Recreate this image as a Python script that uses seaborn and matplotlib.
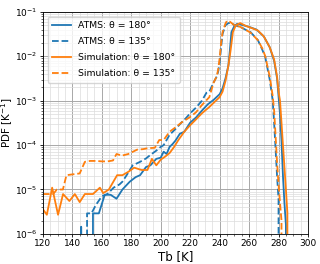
import matplotlib
matplotlib.use("Agg")
import matplotlib.pyplot as plt
import matplotlib.ticker as mticker
import seaborn as sns

# brightness temperature bins [K] and PDF values [1/K]
atms_180_tb = [144, 146, 148, 152, 154, 158, 162, 166, 170, 174, 179, 183, 186, 190,
               193, 197, 200, 202, 204, 206, 208, 210, 213, 216, 220, 224, 228, 232,
               236, 240, 242, 244, 246, 247, 248, 250, 252, 256, 260, 265, 270, 274,
               277, 279, 280, 281, 282, 283, 284, 285, 286]
atms_180_pdf = [0, 1.45e-6, 0, 0, 2.9e-6, 2.9e-6, 7.6e-6, 7.6e-6, 6.2e-6, 1.0e-5, 1.5e-5,
                1.9e-5, 2.1e-5, 3.2e-5, 3.5e-5, 4.9e-5, 5.2e-5, 7.1e-5, 6.3e-5, 9.1e-5,
                1.05e-4, 1.26e-4, 1.8e-4, 2.0e-4, 3.2e-4, 4.2e-4, 6.0e-4, 8.3e-4, 1.05e-3,
                1.4e-3, 1.9e-3, 3.2e-3, 6.3e-3, 1.4e-2, 3.5e-2, 4.8e-2, 5.4e-2, 5.0e-2,
                4.6e-2, 4.0e-2, 2.8e-2, 1.6e-2, 7.9e-3, 3.2e-3, 1.26e-3, 5.0e-4, 1.26e-4,
                2.0e-5, 5.0e-6, 1.6e-6, 0]

atms_135_tb = [148, 150, 153, 156, 160, 164, 168, 172, 174, 178, 181, 186, 190, 193,
               197, 200, 202, 204, 206, 210, 214, 217, 220, 224, 228, 231, 233, 236,
               238, 239, 240, 241, 242, 244, 246, 248, 250, 254, 258, 261, 266, 269,
               271, 274, 276, 277, 278, 279, 280, 281]
atms_135_pdf = [0, 2.9e-6, 2.9e-6, 4.5e-6, 7.0e-6, 8.0e-6, 1.1e-5, 1.3e-5, 1.5e-5, 2.4e-5,
                3.5e-5, 4.2e-5, 5.0e-5, 6.0e-5, 7.5e-5, 9.1e-5, 1.0e-4, 1.3e-4, 1.7e-4,
                2.3e-4, 3.2e-4, 4.0e-4, 5.2e-4, 7.0e-4, 1.0e-3, 1.5e-3, 1.6e-3, 2.6e-3,
                3.5e-3, 4.5e-3, 7.0e-3, 1.6e-2, 3.2e-2, 5.0e-2, 5.6e-2, 5.6e-2, 5.0e-2,
                4.6e-2, 3.9e-2, 3.5e-2, 2.3e-2, 1.4e-2, 9.5e-3, 3.0e-3, 1.05e-3, 3.2e-4,
                8.0e-5, 2.0e-5, 6.0e-6, 0]

sim_180_tb = [120, 122.7, 126.3, 130.3, 133.7, 138, 141.7, 145, 148.5, 154, 158.7, 161,
              164.8, 170.4, 174, 178, 182, 187, 191, 194, 197, 200, 203, 206, 209, 212,
              216, 220, 224, 228, 233, 236, 240, 242, 244, 246, 247.5, 249, 251, 254,
              258, 262, 266, 270, 274, 277, 279, 280, 281, 282, 283, 284, 285, 286, 287]
sim_180_pdf = [3.6e-6, 2.7e-6, 1.1e-5, 2.7e-6, 7.9e-6, 5.5e-6, 7.9e-6, 5.2e-6, 7.9e-6,
               7.9e-6, 1.1e-5, 8.3e-6, 1.0e-5, 2.1e-5, 2.1e-5, 2.5e-5, 3.1e-5, 2.75e-5,
               2.75e-5, 4.9e-5, 3.5e-5, 4.7e-5, 5.5e-5, 6.6e-5, 9.0e-5, 1.3e-4, 2.0e-4,
               2.8e-4, 3.8e-4, 5.2e-4, 7.2e-4, 9.0e-4, 1.2e-3, 1.6e-3, 2.8e-3, 6.3e-3,
               1.4e-2, 3.5e-2, 5.0e-2, 5.6e-2, 4.8e-2, 4.3e-2, 3.8e-2, 2.8e-2, 1.6e-2,
               8.5e-3, 3.5e-3, 1.6e-3, 1.0e-3, 3.2e-4, 1.0e-4, 3.2e-5, 1.0e-5, 3.0e-6, 0]

sim_135_tb = [120, 124, 127, 129.5, 133.6, 136, 140.5, 145, 148.5, 152, 156, 160, 164,
              167.6, 170, 173.7, 178, 184, 188, 191, 196, 199, 202, 206, 210, 214, 220,
              224, 228, 233, 236, 238, 239, 240, 241, 242, 244, 245, 247, 250, 254, 258,
              261, 266, 269, 271, 274, 276, 277, 278, 279, 280, 281, 282, 283]
sim_135_pdf = [7.9e-6, 7.9e-6, 7.9e-6, 1.0e-5, 1.0e-5, 2.1e-5, 2.2e-5, 2.3e-5, 4.2e-5,
               4.4e-5, 4.4e-5, 4.3e-5, 4.3e-5, 4.5e-5, 6.3e-5, 5.8e-5, 6.3e-5, 7.9e-5,
               8.1e-5, 8.5e-5, 8.7e-5, 1.3e-4, 1.3e-4, 2.0e-4, 2.5e-4, 3.2e-4, 4.3e-4,
               5.5e-4, 8.0e-4, 1.2e-3, 2.6e-3, 3.5e-3, 5.0e-3, 9.0e-3, 2.0e-2, 3.5e-2,
               5.5e-2, 6.3e-2, 6.0e-2, 5.0e-2, 4.6e-2, 3.9e-2, 3.4e-2, 2.3e-2, 1.5e-2,
               1.0e-2, 3.5e-3, 1.3e-3, 6.0e-4, 1.6e-4, 4.0e-5, 1.3e-5, 5.0e-6, 2.0e-6, 0]

series = [
    ("ATMS: θ = 180°", atms_180_tb, atms_180_pdf, "#1f77b4", "-"),
    ("ATMS: θ = 135°", atms_135_tb, atms_135_pdf, "#1f77b4", "--"),
    ("Simulation: θ = 180°", sim_180_tb, sim_180_pdf, "#ff7f0e", "-"),
    ("Simulation: θ = 135°", sim_135_tb, sim_135_pdf, "#ff7f0e", "--"),
]

plt.rcParams["font.size"] = 6.5

fig, ax = plt.subplots(figsize=(3.2, 2.64), dpi=100)
fig.subplots_adjust(left=0.134, right=0.9625, top=0.955, bottom=0.114)

for label, tb, pdf, color, ls in series:
    sns.lineplot(x=tb, y=pdf, ax=ax, color=color, linestyle=ls, lw=1.3, label=label)

ax.set_yscale("log", nonpositive="clip")
ax.set_xlim(120, 300)
ax.set_ylim(1e-6, 1e-1)
ax.xaxis.set_major_locator(mticker.MultipleLocator(20))
ax.xaxis.set_minor_locator(mticker.MultipleLocator(5))
ax.yaxis.set_minor_locator(mticker.LogLocator(base=10, subs=range(2, 10), numticks=20))
ax.yaxis.set_minor_formatter(mticker.NullFormatter())
ax.grid(which="major", color="#a8a8a8", lw=0.7)
ax.grid(which="minor", color="#dcdcdc", lw=0.5)
ax.set_axisbelow(True)
ax.tick_params(which="major", labelsize=6.5, length=2.5, width=0.6, pad=1.5)
ax.tick_params(which="minor", length=1.5, width=0.4)
for s in ax.spines.values():
    s.set_linewidth(0.6)

ax.set_xlabel("Tb [K]", fontsize=8.5, labelpad=1)
ax.set_ylabel("PDF [K$^{-1}$]", fontsize=7.5)
ax.yaxis.set_label_coords(-0.105, 0.5)
ax.legend(loc="upper left", fontsize=6.7, handlelength=2.0, borderpad=0.5,
          labelspacing=0.75, handletextpad=0.8)

plt.savefig("out.png", dpi=100)
plt.close()
